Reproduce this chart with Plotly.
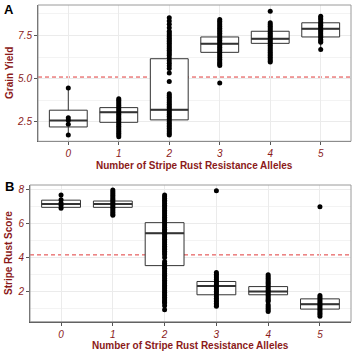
import plotly.graph_objects as go

alleles = [0, 1, 2, 3, 4, 5]
tick_text = ["0", "1", "2", "3", "4", "5"]

# Panel A: grain yield box statistics
a_q1 = [2.21, 2.48, 2.62, 6.53, 7.05, 7.42]
a_med = [2.58, 3.06, 3.20, 7.03, 7.31, 7.89]
a_q3 = [3.18, 3.33, 6.16, 7.42, 7.75, 8.24]
a_lo = [1.74, 1.65, 1.74, 5.77, 6.00, 6.69]
a_hi = [4.46, 3.84, 8.53, 8.43, 8.24, 8.62]

# Panel A: observations per allele count
a_pts = [
    [4.46, 2.75, 2.60, 2.37, 1.74],
    [3.84, 3.75, 3.65, 3.55, 3.45, 3.35, 3.25, 3.15, 3.05, 2.95, 2.85, 2.75,
     2.65, 2.55, 2.45, 2.35, 2.25, 2.15, 2.05, 1.95, 1.85, 1.75, 1.65],
    [8.53, 8.35, 8.15, 7.95, 7.75, 7.65, 7.55, 7.45, 7.35, 7.25, 7.15, 7.05,
     6.95, 6.85, 6.75, 6.65, 6.55, 6.45, 6.35, 6.20, 6.05, 5.90, 5.75, 5.60,
     5.33, 4.84,
     4.13, 4.03, 3.93, 3.83, 3.73, 3.63, 3.53, 3.43, 3.33, 3.23, 3.13, 3.03,
     2.93, 2.83, 2.73, 2.63, 2.53, 2.43, 2.33, 2.23, 2.13, 2.03, 1.93, 1.83,
     1.74],
    [8.43, 8.33, 8.23, 8.13, 8.03, 7.93, 7.83, 7.73, 7.63, 7.53, 7.43, 7.33,
     7.23, 7.13, 7.03, 6.93, 6.83, 6.73, 6.63, 6.53, 6.43, 6.33, 6.23, 6.13,
     6.03, 5.93, 5.85, 5.77, 4.75],
    [8.91, 8.24, 8.14, 8.04, 7.94, 7.84, 7.74, 7.64, 7.54, 7.44, 7.34, 7.24,
     7.14, 7.04, 6.94, 6.84, 6.74, 6.64, 6.54, 6.44, 6.34, 6.24, 6.14, 6.05,
     5.97],
    [8.62, 8.52, 8.43, 8.30, 8.20, 8.10, 8.00, 7.90, 7.80, 7.70, 7.60, 7.50,
     7.40, 7.28, 7.18, 7.11, 6.69],
]

# Panel B: stripe rust score box statistics
b_q1 = [6.95, 6.95, 3.53, 1.82, 1.82, 0.98]
b_med = [7.14, 7.14, 5.43, 2.34, 2.01, 1.27]
b_q3 = [7.37, 7.32, 6.05, 2.60, 2.30, 1.58]
b_lo = [6.90, 6.49, 0.94, 1.14, 1.10, 0.56]
b_hi = [7.67, 7.96, 7.67, 3.12, 2.99, 1.77]

b_pts = [
    [7.67, 7.40, 7.20, 7.05, 6.90],
    [7.96, 7.86, 7.76, 7.66, 7.56, 7.46, 7.36, 7.26, 7.16, 7.06, 6.96, 6.86,
     6.76, 6.66, 6.56, 6.49],
    [7.67, 7.57, 7.47, 7.37, 7.27, 7.17, 7.07, 6.97, 6.87, 6.77, 6.67, 6.57,
     6.47, 6.37, 6.27, 6.17, 6.07, 5.97, 5.87, 5.77, 5.67, 5.57, 5.47, 5.37,
     5.27, 5.17, 5.07, 4.97, 4.87, 4.77, 4.67, 4.57, 4.47, 4.37, 4.27, 4.17,
     4.00,
     3.77, 3.67, 3.57, 3.47, 3.37, 3.27, 3.17, 3.07, 2.97, 2.87, 2.77, 2.67,
     2.57, 2.47, 2.37, 2.27, 2.17, 2.07, 1.97, 1.87, 1.77, 1.67, 1.57, 1.47,
     1.40, 1.33, 1.18, 0.94],
    [7.92, 3.12, 3.02, 2.92, 2.82, 2.72, 2.62, 2.52, 2.42, 2.32, 2.22, 2.12,
     2.02, 1.92, 1.82, 1.72, 1.62, 1.52, 1.42, 1.32, 1.22, 1.14],
    [2.99, 2.89, 2.79, 2.69, 2.59, 2.49, 2.39, 2.29, 2.19, 2.09, 1.99, 1.89,
     1.79, 1.69, 1.59, 1.50, 1.43, 1.23, 1.13, 1.03, 0.93, 0.84],
    [6.98, 1.77, 1.67, 1.57, 1.47, 1.37, 1.27, 1.17, 1.07, 0.97, 0.87, 0.77,
     0.67, 0.56],
]

a_ref = 5.1
b_ref = 4.16

DARKRED = "#8B1A1A"
BOXLINE = "#333333"
FONT = "Liberation Sans, Arial, sans-serif"

fig = go.Figure()


def add_panel(q1, med, q3, lo, hi, pts, xa, ya):
    xref = "x" if xa == "xaxis" else "x2"
    yref = "y" if ya == "yaxis" else "y2"
    fig.add_trace(go.Box(
        x=alleles, q1=q1, median=med, q3=q3, lowerfence=lo, upperfence=hi,
        width=0.75, whiskerwidth=0, boxpoints=False,
        fillcolor="white", line=dict(color=BOXLINE, width=1),
        xaxis=xref, yaxis=yref, showlegend=False, hoverinfo="skip"))
    for i, m in zip(alleles, med):
        fig.add_trace(go.Scatter(
            x=[i - 0.375, i + 0.375], y=[m, m], mode="lines",
            line=dict(color=BOXLINE, width=2), xaxis=xref, yaxis=yref,
            showlegend=False, hoverinfo="skip"))
    for i, ys in zip(alleles, pts):
        fig.add_trace(go.Scatter(
            x=[i] * len(ys), y=ys, mode="markers",
            marker=dict(color="black", size=5),
            xaxis=xref, yaxis=yref, showlegend=False, hoverinfo="skip"))


add_panel(a_q1, a_med, a_q3, a_lo, a_hi, a_pts, "xaxis", "yaxis")
add_panel(b_q1, b_med, b_q3, b_lo, b_hi, b_pts, "xaxis2", "yaxis2")

W, H = 355, 351
a_dom_x = [38 / W, 351 / W]
b_dom_x = [30 / W, 351 / W]
a_dom_y = [1 - 141.3 / H, 1 - 5 / H]
b_dom_y = [1 - 321.7 / H, 1 - 185 / H]

xcommon = dict(
    range=[-0.6, 5.6], tickmode="array", tickvals=alleles, ticktext=tick_text,
    showgrid=True, gridcolor="#ebebeb", gridwidth=1, zeroline=False,
    ticks="outside", ticklen=3, tickcolor="#555555",
    tickfont=dict(family=FONT, size=10, color=DARKRED, style="italic"),
    showline=True, linecolor="#555555", linewidth=1, mirror=False,
)
ycommon = dict(
    showgrid=True, gridcolor="#ebebeb", gridwidth=1, zeroline=False,
    ticks="outside", ticklen=3, tickcolor="#555555",
    tickfont=dict(family=FONT, size=10, color=DARKRED, style="italic"),
    showline=True, linecolor="#555555", linewidth=1, mirror=False,
)

fig.update_layout(
    width=W, height=H, margin=dict(l=0, r=0, t=0, b=0),
    paper_bgcolor="white", plot_bgcolor="white",
    xaxis=dict(domain=a_dom_x, anchor="y", **xcommon),
    yaxis=dict(domain=a_dom_y, anchor="x", range=[1.38, 9.27],
               tickvals=[2.5, 5.0, 7.5], ticktext=["2.5", "5.0", "7.5"],
               minor=dict(showgrid=True, gridcolor="#f3f3f3",
                          tickvals=[3.75, 6.25, 8.75]),
               **ycommon),
    xaxis2=dict(domain=b_dom_x, anchor="y2", **xcommon),
    yaxis2=dict(domain=b_dom_y, anchor="x2", range=[0.24, 8.26],
                tickvals=[2, 4, 6, 8], ticktext=["2", "4", "6", "8"],
                minor=dict(showgrid=True, gridcolor="#f3f3f3",
                           tickvals=[1, 3, 5, 7]),
                **ycommon),
)

# panel borders (light) and reference lines
for xr, yr in (("x", "y"), ("x2", "y2")):
    fig.add_shape(type="rect", xref=xr + " domain", yref=yr + " domain",
                  x0=0, x1=1, y0=0, y1=1,
                  line=dict(color="#9a9a9a", width=1), layer="above")
fig.add_shape(type="line", xref="x domain", yref="y", x0=0, x1=1,
              y0=a_ref, y1=a_ref, line=dict(color="#e03a3a", width=1, dash="4px,3px"),
              layer="below")
fig.add_shape(type="line", xref="x2 domain", yref="y2", x0=0, x1=1,
              y0=b_ref, y1=b_ref, line=dict(color="#e03a3a", width=1, dash="4px,3px"),
              layer="below")


def label(text, x, y, size=10, color=DARKRED, angle=0):
    return dict(text=text, x=x / W, y=1 - y / H, xref="paper", yref="paper",
                xanchor="center", yanchor="middle", showarrow=False,
                textangle=angle, font=dict(family=FONT, size=size, color=color))


ann = [
    label("<b>A</b>", 9, 10, size=13, color="black"),
    label("<b>B</b>", 9, 187, size=13, color="black"),
    label("<b>Grain Yield</b>", 9, 73, angle=-90),
    label("<b>Stripe Rust Score</b>", 9, 253, angle=-90),
    label("<b>Number of Stripe Rust Resistance Alleles</b>", (38 + 351) / 2, 166),
    label("<b>Number of Stripe Rust Resistance Alleles</b>", (30 + 351) / 2, 345),
]
fig.update_layout(annotations=ann)

fig.write_html("out.html")
